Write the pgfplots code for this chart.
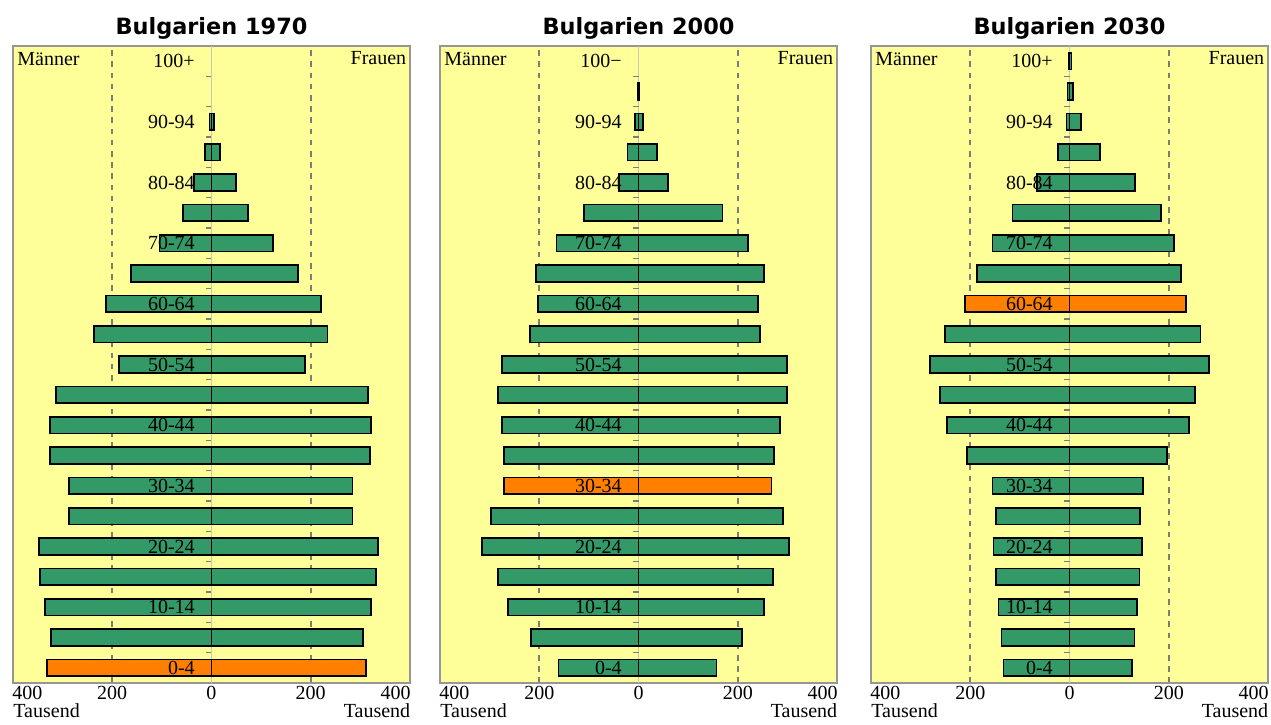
\documentclass[border=0pt]{standalone}
\usepackage{pgfplots}
\usepackage{pgfplotstable}
\pgfplotsset{compat=1.18}
\usepackage{fontspec}
\setmainfont{Liberation Serif}
\newfontfamily\titlefont{DejaVu Sans}
\definecolor{bgyellow}{HTML}{FFFF99}
\definecolor{bargreen}{HTML}{339966}
\definecolor{barorange}{HTML}{FF8000}
\definecolor{gridgray}{RGB}{125,125,120}
\definecolor{framegray}{RGB}{150,150,150}
\definecolor{centergray}{RGB}{200,200,180}

% i = age group index (0 = 0-4, ..., 20 = 100+), m = Maenner, f = Frauen (Tausend)
\pgfplotstableread{
i m f
0 331 312
1 323 305
2 335 321
3 345 331
4 347 336
5 287 284
6 287 284
7 325 319
8 325 321
9 313 316
10 187 188
11 237 234
12 212 220
13 162 174
14 105 124
15 57 74
16 35 49
17 13 17
18 4 5
}\tA
\pgfplotstableread{
i m f
0 161 157
1 217 209
2 263 253
3 283 271
4 315 303
5 297 291
6 271 268
7 271 273
8 275 285
9 283 299
10 275 299
11 219 245
12 203 241
13 206 253
14 165 220
15 110 169
16 39 60
17 22 37
18 7 9
19 1 2
}\tB
\pgfplotstableread{
i m f
0 133 126
1 137 131
2 143 136
3 148 141
4 153 146
5 148 142
6 155 148
7 206 197
8 247 241
9 261 253
10 281 281
11 251 264
12 211 235
13 186 225
14 155 211
15 115 185
16 66 132
17 23 61
18 6 23
19 4 7
20 2 4
}\tC

\tikzset{lab/.style={anchor=east, inner sep=0pt, font=\fontsize{10}{12}\selectfont},
  ytk/.style={draw=gridgray, line width=0.6pt}}

\pgfplotsset{pyr/.style={
  scale only axis, width=198.5pt, height=318.5pt, anchor=south west,
  xmin=-400, xmax=400, ymin=-0.5, ymax=20.5,
  xbar, bar width=0.55, bar shift=0pt,
  axis background/.style={fill=bgyellow},
  axis line style={framegray, line width=0.8pt},
  xtick={-200,200}, xticklabels={200,200},
  xtick style={draw=none},
  xmajorgrids=true,
  major grid style={gridgray, line width=0.9pt, dash pattern=on 2.8pt off 2.8pt},
  extra x ticks={0}, extra x tick labels={0},
  extra x tick style={grid=major, major grid style={centergray, solid, line width=0.4pt}, xtick style={draw=none}},
  ytick=\empty,
  xticklabel style={anchor=base, inner sep=0pt, yshift=-8.5pt, font=\fontsize{10}{12}\selectfont},
  clip=false,
}}

\newcommand{\yticksmall}{%
  \draw[ytk] (axis cs:0,0.5) -- (axis cs:-12,0.5);
  \draw[ytk] (axis cs:0,1.5) -- (axis cs:-12,1.5);
  \draw[ytk] (axis cs:0,2.5) -- (axis cs:-12,2.5);
  \draw[ytk] (axis cs:0,3.5) -- (axis cs:-12,3.5);
  \draw[ytk] (axis cs:0,4.5) -- (axis cs:-12,4.5);
  \draw[ytk] (axis cs:0,5.5) -- (axis cs:-12,5.5);
  \draw[ytk] (axis cs:0,6.5) -- (axis cs:-12,6.5);
  \draw[ytk] (axis cs:0,7.5) -- (axis cs:-12,7.5);
  \draw[ytk] (axis cs:0,8.5) -- (axis cs:-12,8.5);
  \draw[ytk] (axis cs:0,9.5) -- (axis cs:-12,9.5);
  \draw[ytk] (axis cs:0,10.5) -- (axis cs:-12,10.5);
  \draw[ytk] (axis cs:0,11.5) -- (axis cs:-12,11.5);
  \draw[ytk] (axis cs:0,12.5) -- (axis cs:-12,12.5);
  \draw[ytk] (axis cs:0,13.5) -- (axis cs:-12,13.5);
  \draw[ytk] (axis cs:0,14.5) -- (axis cs:-12,14.5);
  \draw[ytk] (axis cs:0,15.5) -- (axis cs:-12,15.5);
  \draw[ytk] (axis cs:0,16.5) -- (axis cs:-12,16.5);
  \draw[ytk] (axis cs:0,17.5) -- (axis cs:-12,17.5);
  \draw[ytk] (axis cs:0,18.5) -- (axis cs:-12,18.5);
  \draw[ytk] (axis cs:0,19.5) -- (axis cs:-12,19.5);
}

\newcommand{\panelbars}[1]{%
  \addplot[fill=bargreen, draw=black, line width=0.85pt] table[x expr=-\thisrow{m}, y=i] {#1};
  \addplot[fill=bargreen, draw=black, line width=0.85pt] table[x=f, y=i] {#1};
}
\newcommand{\highlight}[3]{% #1 index, #2 male, #3 female
  \addplot[fill=barorange, draw=black, line width=0.85pt] coordinates {(-#2,#1)};
  \addplot[fill=barorange, draw=black, line width=0.85pt] coordinates {(#3,#1)};
}
\newcommand{\paneltext}[2]{% #1 title, #2 top label
  \yticksmall
  \node[lab] at (axis cs:-33,0) {0-4};
  \node[lab] at (axis cs:-33,2) {10-14};
  \node[lab] at (axis cs:-33,4) {20-24};
  \node[lab] at (axis cs:-33,6) {30-34};
  \node[lab] at (axis cs:-33,8) {40-44};
  \node[lab] at (axis cs:-33,10) {50-54};
  \node[lab] at (axis cs:-33,12) {60-64};
  \node[lab] at (axis cs:-33,14) {70-74};
  \node[lab] at (axis cs:-33,16) {80-84};
  \node[lab] at (axis cs:-33,18) {90-94};
  \node[lab] at (axis cs:-33,20) {#2};
  \node[anchor=base west, inner sep=0pt, font=\fontsize{10}{12}\selectfont] at (rel axis cs:0,1) [xshift=2pt, yshift=-10pt] {Männer};
  \node[anchor=base east, inner sep=0pt, font=\fontsize{10}{12}\selectfont] at (rel axis cs:1,1) [xshift=-1.7pt, yshift=-9.5pt] {Frauen};
  \node[anchor=base west, inner sep=0pt, font=\fontsize{10}{12}\selectfont] at (rel axis cs:0,0) [xshift=-0.5pt, yshift=-8.5pt] {400};
  \node[anchor=base east, inner sep=0pt, font=\fontsize{10}{12}\selectfont] at (rel axis cs:1,0) [xshift=0.5pt, yshift=-8.5pt] {400};
  \node[anchor=base west, inner sep=0pt, font=\fontsize{10}{12}\selectfont] at (rel axis cs:0,0) [yshift=-17.5pt] {Tausend};
  \node[anchor=base east, inner sep=0pt, font=\fontsize{10}{12}\selectfont] at (rel axis cs:1,0) [xshift=0.3pt, yshift=-17.5pt] {Tausend};
  \node[anchor=base, inner sep=0pt, font=\titlefont\bfseries\fontsize{11.2}{13}\selectfont] at (rel axis cs:0.5,1) [yshift=5.8pt] {#1};
}

\begin{document}
\begin{tikzpicture}
\begin{axis}[pyr, at={(6.5pt,20.5pt)}]
  \panelbars{\tA}
  \highlight{0}{331}{312}
  \paneltext{Bulgarien 1970}{100+}
\end{axis}
\begin{axis}[pyr, at={(220pt,20.5pt)}]
  \panelbars{\tB}
  \highlight{6}{271}{268}
  \paneltext{Bulgarien 2000}{100−}
\end{axis}
\begin{axis}[pyr, at={(435.5pt,20.5pt)}]
  \panelbars{\tC}
  \highlight{12}{211}{235}
  \paneltext{Bulgarien 2030}{100+}
\end{axis}
\pgfresetboundingbox
\path[use as bounding box] (0,0) rectangle (635.5pt,362pt);
\end{tikzpicture}
\end{document}
